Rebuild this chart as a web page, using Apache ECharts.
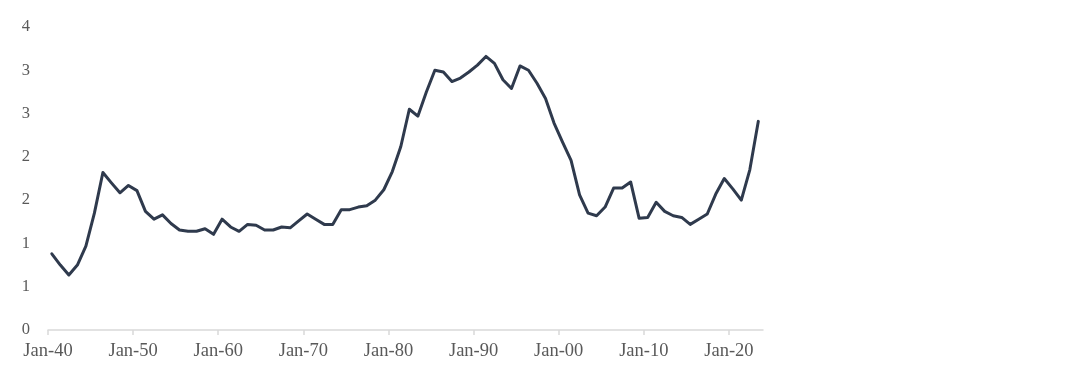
<!DOCTYPE html>
<html>
<head>
<meta charset="utf-8">
<script src="https://cdn.jsdelivr.net/npm/echarts@6/dist/echarts.min.js"></script>
<style>html,body{margin:0;padding:0;background:#fff;}#c{width:1088px;height:374px;}</style>
</head>
<body>
<div id="c"></div>
<script>
const startYear = 1940;
const values = [
  0.88, 0.75, 0.635, 0.75, 0.97, 1.35, 1.82, 1.70, 1.585, 1.67,
  1.61, 1.37, 1.28, 1.33, 1.23, 1.155, 1.14, 1.14, 1.17, 1.105,
  1.28, 1.19, 1.14, 1.22, 1.21, 1.155, 1.155, 1.19, 1.18, 1.26,
  1.34, 1.28, 1.22, 1.22, 1.39, 1.39, 1.42, 1.435, 1.50, 1.62,
  1.83, 2.12, 2.55, 2.47, 2.75, 3.00, 2.98, 2.87, 2.91, 2.98,
  3.06, 3.16, 3.08, 2.89, 2.79, 3.05, 3.00, 2.85, 2.675, 2.39,
  2.17, 1.96, 1.56, 1.35, 1.32, 1.42, 1.64, 1.64, 1.71, 1.29,
  1.30, 1.475, 1.37, 1.32, 1.30, 1.22, 1.28, 1.34, 1.57, 1.75,
  1.63, 1.50, 1.85, 2.41
];
const years = values.map((_, i) => startYear + i);
const tickYears = [1940, 1950, 1960, 1970, 1980, 1990, 2000, 2010, 2020];
const yTicks = [0, 0.5, 1, 1.5, 2, 2.5, 3, 3.5];

const chart = echarts.init(document.getElementById('c'), null, {renderer: 'canvas'});
const font = '"Liberation Serif", "Times New Roman", serif';
chart.setOption({
  animation: false,
  backgroundColor: '#ffffff',
  grid: {left: 48, right: 325, top: 27, bottom: 44, containLabel: false},
  xAxis: {
    type: 'value',
    min: 1940,
    max: 2024,
    axisLine: {show: true, lineStyle: {color: '#d9d9d9', width: 1.5}},
    axisTick: {show: true, length: 5, lineStyle: {color: '#d9d9d9', width: 1.5}, customValues: tickYears},
    splitLine: {show: false},
    axisLabel: {
      customValues: tickYears,
      margin: 12,
      color: '#595959',
      fontFamily: font,
      fontSize: 18.5,
      formatter: v => 'Jan-' + String(v % 100).padStart(2, '0')
    }
  },
  yAxis: {
    type: 'value',
    min: 0,
    max: 3.5,
    interval: 0.5,
    axisLine: {show: false},
    axisTick: {show: false},
    splitLine: {show: false},
    axisLabel: {
      margin: 18,
      color: '#595959',
      fontFamily: font,
      fontSize: 16.5,
      formatter: v => String(Math.round(v))
    }
  },
  series: [{
    type: 'line',
    data: years.map((y, i) => [y + 0.45, values[i]]),
    showSymbol: false,
    symbol: 'none',
    lineStyle: {color: '#2f3a4d', width: 3, join: 'round', cap: 'round'},
    silent: true
  }]
});
</script>
</body>
</html>
